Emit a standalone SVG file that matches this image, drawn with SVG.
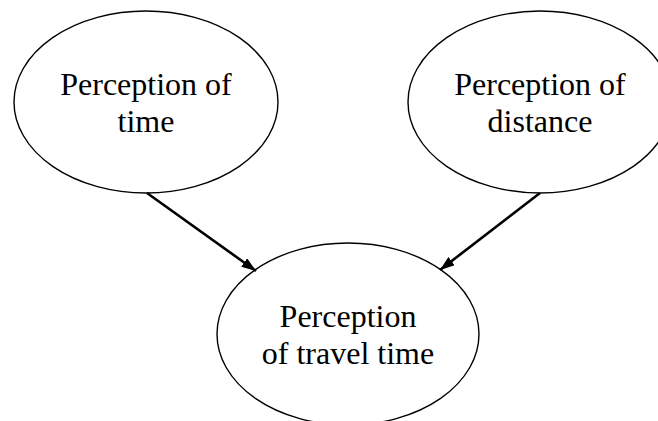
<svg xmlns="http://www.w3.org/2000/svg" width="658" height="421" viewBox="0 0 658 421">
<style>
.node{fill:#fff;stroke:#000;stroke-width:1.4}
.lbl{font-family:"Liberation Serif","Times New Roman",serif;font-size:32px;fill:#000;text-anchor:middle}
.edge{stroke:#000;stroke-width:2.6;fill:none}
</style>
<defs>
<marker id="arr" viewBox="0 0 14 10" refX="14" refY="5" markerWidth="5.6" markerHeight="4" orient="auto" markerUnits="strokeWidth">
<path d="M0,0 L14,5 L0,10 Z" fill="#000"/>
</marker>
</defs>
<rect width="658" height="421" fill="#fff"/>
<g id="node-time">
<ellipse class="node" cx="146" cy="102" rx="132" ry="91"/>
<text class="lbl" x="146" y="95">Perception of</text>
<text class="lbl" x="146" y="132">time</text>
</g>
<g id="node-distance">
<ellipse class="node" cx="540" cy="102" rx="132" ry="91"/>
<text class="lbl" x="540" y="95">Perception of</text>
<text class="lbl" x="540" y="132">distance</text>
</g>
<g id="node-travel">
<ellipse class="node" cx="348" cy="334" rx="131" ry="91"/>
<text class="lbl" x="348" y="327">Perception</text>
<text class="lbl" x="348" y="364">of travel time</text>
</g>
<g id="connectors">
<line class="edge" x1="147" y1="193" x2="256" y2="271" marker-end="url(#arr)"/>
<line class="edge" x1="540" y1="193" x2="440" y2="270" marker-end="url(#arr)"/>
</g>
</svg>
